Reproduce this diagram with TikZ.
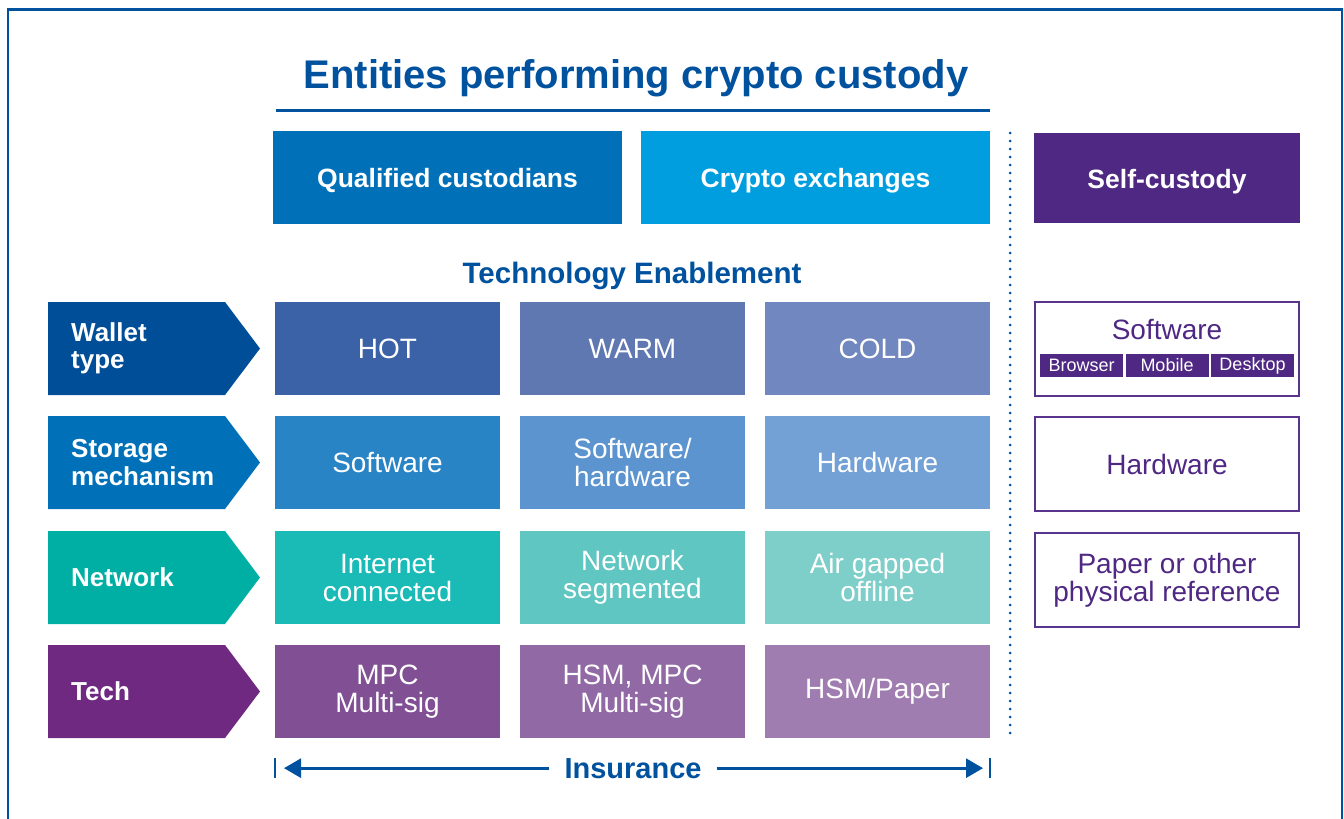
\documentclass[tikz,border=0pt]{standalone}
\usepackage{fontspec}
\setmainfont{Liberation Sans}
\usetikzlibrary{arrows.meta}
\definecolor{kblue}{RGB}{0,81,158}
\definecolor{qcblue}{RGB}{0,112,185}
\definecolor{cxblue}{RGB}{0,158,222}
\definecolor{scpurple}{RGB}{78,40,131}
\definecolor{scline}{RGB}{88,52,140}
\definecolor{walarr}{RGB}{0,78,152}
\definecolor{wal1}{RGB}{59,98,167}
\definecolor{wal2}{RGB}{95,120,178}
\definecolor{wal3}{RGB}{113,135,191}
\definecolor{stoarr}{RGB}{0,112,184}
\definecolor{sto1}{RGB}{41,132,198}
\definecolor{sto2}{RGB}{92,148,207}
\definecolor{sto3}{RGB}{115,161,213}
\definecolor{netarr}{RGB}{0,175,163}
\definecolor{net1}{RGB}{26,187,183}
\definecolor{net2}{RGB}{95,198,194}
\definecolor{net3}{RGB}{126,206,202}
\definecolor{tecarr}{RGB}{111,41,128}
\definecolor{tec1}{RGB}{128,79,148}
\definecolor{tec2}{RGB}{145,105,164}
\definecolor{tec3}{RGB}{160,125,176}
\tikzset{
  cell/.style={minimum width=225pt,minimum height=93pt,inner sep=0pt,text=white,align=center,font=\fontsize{28}{28}\selectfont},
  headbox/.style={minimum height=93pt,inner sep=0pt,text height=20pt,text depth=0pt,text=white,font=\bfseries\fontsize{26.5}{30}\selectfont},
  rowlabel/.style={anchor=west,inner sep=0pt,text=white,align=left,font=\bfseries\fontsize{26}{27.5}\selectfont},
  selfbox/.style={draw=scline,line width=2.5pt,minimum width=264pt,minimum height=94pt,inner sep=0pt,text=scpurple,align=center,font=\fontsize{28}{28}\selectfont},
  tabbox/.style={fill=scpurple,minimum width=83pt,minimum height=23pt,inner sep=0pt,text=white,font=\fontsize{18}{20}\selectfont},
}
\begin{document}
\begin{tikzpicture}[x=1pt,y=-1pt]
\useasboundingbox (0,0) rectangle (1344,819);
\pgfmathsetmacro{\cstep}{245}
\pgfmathsetmacro{\hh}{46.5}
\draw[kblue,line width=2.7pt](8,9.5) rectangle (1342,860);
\node[anchor=base,inner sep=0pt,text=kblue,font=\bfseries\fontsize{40}{40}\selectfont] (title) at (636,88) {Entities performing crypto custody};
\draw[kblue,line width=2.5pt](276,110.5)--(990,110.5);
\node[headbox,fill=qcblue,minimum width=349pt] (qc) at (447.5,177.5) {Qualified custodians};
\node[headbox,fill=cxblue,minimum width=349pt] (cx) at (815.5,177.5) {Crypto exchanges};
\node[headbox,fill=scpurple,minimum width=266pt,minimum height=90pt] (sc) at (1167,178) {Self-custody};
\draw[kblue,line width=3pt,line cap=round,dash pattern=on 0pt off 8pt](1010,133)--(1010,740);
\node[anchor=base,inner sep=0pt,text=kblue,font=\bfseries\fontsize{29.5}{30}\selectfont] (tech) at (632,283) {Technology Enablement};
\foreach \r/\y/\a/\ac in {1/348.5/{Wallet\\type}/walarr,2/462.5/{Storage\\mechanism}/stoarr,3/577.5/Network/netarr,4/691.5/Tech/tecarr}{
  \fill[\ac](48,\y-\hh)--(225,\y-\hh)--(260,\y)--(225,\y+\hh)--(48,\y+\hh)--cycle;
  \node[rowlabel] (lab\r) at (71,\y) {\a};
}
\foreach \c/\a in {1/HOT,2/WARM,3/COLD}{\node[cell,fill=wal\c] (wal\c) at (142.5+\c*\cstep,348.5) {\a};}
\foreach \c/\a in {1/Software,2/{Software/\\hardware},3/Hardware}{\node[cell,fill=sto\c] (sto\c) at (142.5+\c*\cstep,462.5) {\a};}
\foreach \c/\a in {1/{Internet\\connected},2/{Network\\segmented},3/{Air gapped\\offline}}{\node[cell,fill=net\c] (net\c) at (142.5+\c*\cstep,577.5) {\a};}
\foreach \c/\a in {1/{MPC\\Multi-sig},2/{HSM, MPC\\Multi-sig},3/{HSM/Paper}}{\node[cell,fill=tec\c] (tec\c) at (142.5+\c*\cstep,691.5) {\a};}
\node[selfbox] (swbox) at (1167,349) {};
\node[inner sep=0pt,text=scpurple,font=\fontsize{28}{28}\selectfont] (swtxt) at (1167,330) {Software};
\foreach \i/\a in {0/Browser,1/Mobile,2/Desktop}{\node[tabbox] (tab\i) at (1081.5+85.5*\i,365.5) {\a};}
\node[selfbox] (hwbox) at (1167,464) {Hardware};
\node[selfbox] (ppbox) at (1167,580) {Paper or other\\physical reference};
\node[anchor=base,inner xsep=15pt,inner ysep=0pt,text=kblue,font=\bfseries\fontsize{29}{29}\selectfont] (ins) at (633,778) {Insurance};
\coordinate (insL) at (275,769);
\coordinate (insR) at (990,769);
\draw[kblue,line width=2pt]([yshift=-10pt]ins.west-|insL)--([yshift=10pt]ins.west-|insL) ([yshift=-10pt]ins.east-|insR)--([yshift=10pt]ins.east-|insR);
\draw[kblue,line width=2.7pt,-{Triangle[length=17pt,width=19pt]},shorten >=9pt](ins.west)--(ins.west-|insL);
\draw[kblue,line width=2.7pt,-{Triangle[length=17pt,width=19pt]},shorten >=7pt](ins.east)--(ins.east-|insR);
\end{tikzpicture}
\end{document}
